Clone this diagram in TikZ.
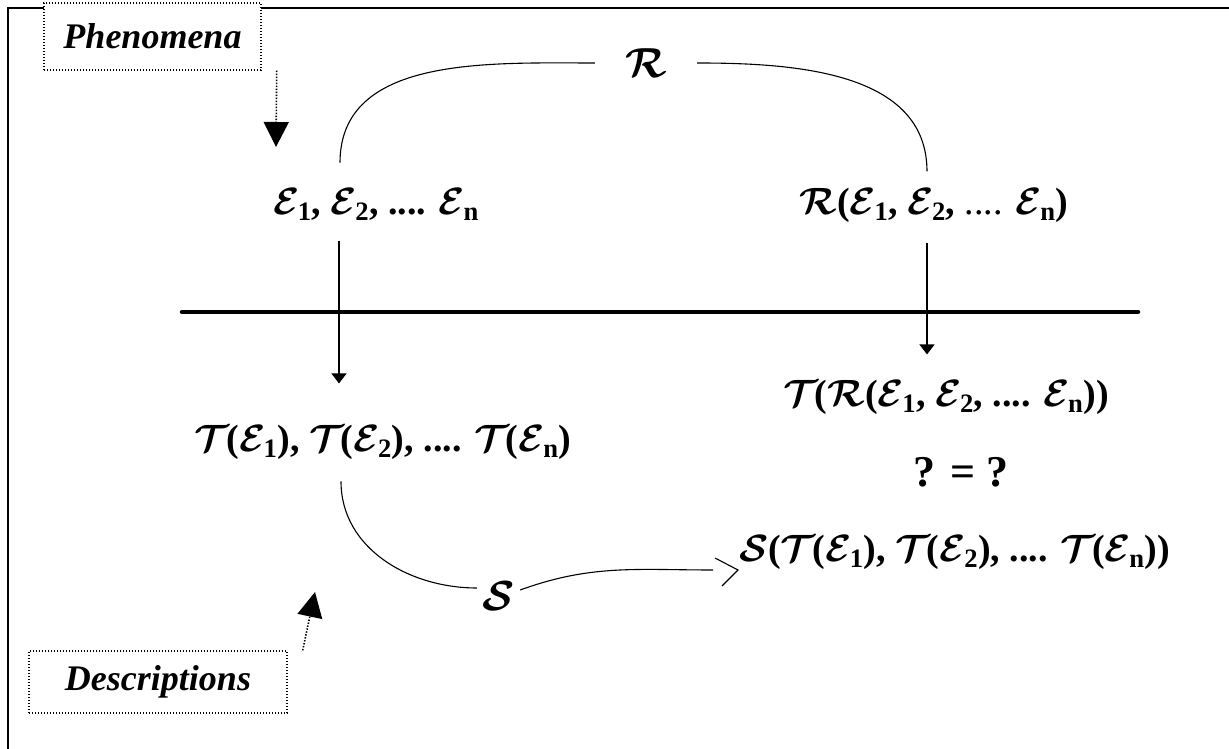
\documentclass[tikz,border=0pt]{standalone}
\usepackage{fix-cm}
\usepackage{amsmath}
\usepackage{fontspec}
\setmainfont{Liberation Serif}
\usetikzlibrary{arrows.meta}
\newcommand{\scrE}{\ensuremath{\boldsymbol{\mathcal{E}}}\kern-1.5pt}
\newcommand{\scrR}{\ensuremath{\boldsymbol{\mathcal{R}}}}
\newcommand{\scrT}{\ensuremath{\boldsymbol{\mathcal{T}}}\kern-3pt}
\newcommand{\scrS}{\ensuremath{\boldsymbol{\mathcal{S}}}\kern-1pt}
\begin{document}
\begin{tikzpicture}[
  x=1pt,y=1pt,
  formula/.style={inner sep=0pt,anchor=base,font=\fontsize{38}{44}\selectfont\bfseries},
  mapname/.style={inner sep=0pt,font=\fontsize{42}{48}\selectfont},
  tag/.style={draw,dash pattern=on 1.4pt off 1.6pt,line width=1.4pt,fill=white,
              font=\fontsize{36}{40}\selectfont\bfseries\itshape},
  flow/.style={-{Triangle[length=10pt,width=15pt]},line width=1.3pt},
  hint/.style={dash pattern=on 1.4pt off 1.6pt,line width=1.6pt,
               -{Triangle[length=25pt,width=25pt]}},
  link/.style={line width=1.1pt}
]
\useasboundingbox (0,0) rectangle (1229,749);
\draw[line width=2.2pt] (8,0) -- (8,741) -- (1229,741);
\node[tag,minimum width=217pt,minimum height=67pt] (phen) at (152.5,712.5) {Phenomena};
\node[tag,minimum width=258pt,minimum height=62pt] (desc) at (158,67) {Descriptions};
\coordinate (phentip) at (276,602);
\coordinate (desctip) at (315,157);
\node[formula] (elems) at (376,534) {\scrE\textsubscript{1}, \scrE\textsubscript{2}, .... \scrE\textsubscript{n}};
\node[formula] (relE) at (934,534) {\scrR(\scrE\textsubscript{1}, \scrE\textsubscript{2}, {\mdseries ....} \scrE\textsubscript{n})};
\node[mapname,minimum width=102pt] (rlab) at (646,686) {\scrR};
\node[formula] (tel) at (383,297) {\scrT(\scrE\textsubscript{1}), \scrT(\scrE\textsubscript{2}), .... \scrT(\scrE\textsubscript{n})};
\node[formula] (trel) at (946,342) {\scrT(\scrR(\scrE\textsubscript{1}, \scrE\textsubscript{2}, .... \scrE\textsubscript{n}))};
\node[formula,font=\fontsize{44}{50}\selectfont\bfseries] (eq) at (961,262) {? = ?};
\node[formula] (srow) at (955,187) {\scrS(\scrT(\scrE\textsubscript{1}), \scrT(\scrE\textsubscript{2}), .... \scrT(\scrE\textsubscript{n}))};
\node[mapname,minimum width=43pt] (slab) at (498.5,153) {\scrS};
\coordinate (stip) at (738,179);
\coordinate (cutl) at (182,437);
\coordinate (cutr) at (1138,437);
\draw[line width=4.5pt,line cap=round] (cutl) -- (cutr);
\draw[hint] ([xshift=15pt]phen.south east) -- (phentip);
\draw[hint] ([xshift=15pt]desc.north east) -- (desctip);
\draw[link] ([xshift=-36pt,yshift=26pt]elems.north) to[out=90,in=180] (rlab.west);
\draw[link] (rlab.east) to[out=0,in=90] ([xshift=-7pt,yshift=17pt]relE.north);
\draw[flow] ([xshift=-37pt,yshift=-20pt]elems.south) -- ([xshift=-44pt,yshift=42pt]tel.north);
\draw[flow] ([xshift=-7pt,yshift=-20pt]relE.south) -- ([xshift=-19pt,yshift=26pt]trel.north);
\draw[link] ([xshift=-42pt,yshift=-21pt]tel.south) to[out=-90,in=180] ([yshift=8pt]slab.west);
\draw[link] ([yshift=6pt]slab.east) to[out=20,in=180] ([xshift=-25pt]stip);
\draw[link] (stip) ++(-23,12) -- (stip) -- ++(-16,-16);
\end{tikzpicture}
\end{document}
